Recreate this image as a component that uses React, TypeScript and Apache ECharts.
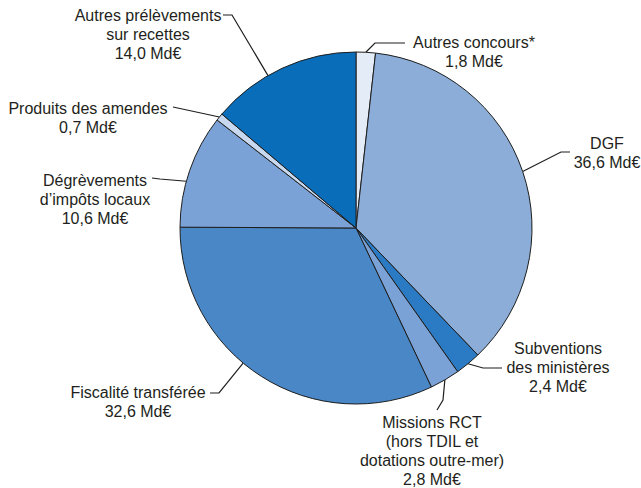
import React, { useEffect, useRef } from "react";
import * as echarts from "echarts";

const categories = [
  "Autres concours*",
  "DGF",
  "Subventions\ndes ministères",
  "Missions RCT\n(hors TDIL et\ndotations outre-mer)",
  "Fiscalité transférée",
  "Dégrèvements\nd’impôts locaux",
  "Produits des amendes",
  "Autres prélèvements\nsur recettes",
];
const values = [1.8, 36.6, 2.4, 2.8, 32.6, 10.6, 0.7, 14.0];
const colors = ["#e4ecf7", "#8badd8", "#2a7bc4", "#7ba2d6", "#4a87c6", "#7ba2d6", "#c8d8ee", "#0a6db9"];

// label layout (pixel positions of label blocks and leader lines)
const CX = 356;
const CY = 228;
const R = 176;
const labelPos: { x: number; y: number; angle?: number; pts: number[][] }[] = [
  { x: 474, y: 32.5, pts: [[375, 43], [405, 43]] },
  { x: 607, y: 133.5, pts: [[561, 152], [570, 152]] },
  { x: 558, y: 338.5, pts: [[483, 368], [502, 368]] },
  { x: 432, y: 412.5, pts: [[443, 400], [437, 410]] },
  { x: 138, y: 382.5, angle: 219.9, pts: [[219, 393], [210, 393]] },
  { x: 95, y: 170.5, angle: 285.4, pts: [[160, 179], [152, 178]] },
  { x: 88, y: 98.5, pts: [[173, 107]] },
  { x: 148, y: 5.5, angle: 330, pts: [[232, 15], [223, 15]] },
];

const fmt = (v: number) => v.toFixed(1).replace(".", ",") + " Md€";

export default function App() {
  const ref = useRef<HTMLDivElement>(null);
  useEffect(() => {
    if (!ref.current) return;
    const chart = echarts.init(ref.current, null, { renderer: "svg" });
    const total = values.reduce((a, b) => a + b, 0);
    const mids: number[] = [];
    let cum = 0;
    values.forEach((v) => {
      mids.push(((cum + v / 2) / total) * 360);
      cum += v;
    });
    chart.setOption({
      animation: false,
      backgroundColor: "#ffffff",
      series: [
        {
          type: "pie",
          center: [CX, CY],
          radius: [0, R],
          startAngle: 90,
          clockwise: true,
          avoidLabelOverlap: false,
          itemStyle: { borderColor: "#1e1e1e", borderWidth: 1 },
          label: {
            show: true,
            formatter: (p: any) => p.name + "\n" + fmt(p.value),
            fontFamily: "'Liberation Sans', Arial, sans-serif",
            fontSize: 16,
            lineHeight: 19,
            color: "#231f20",
            align: "center",
          },
          labelLine: { show: true, smooth: false, lineStyle: { color: "#1e1e1e", width: 1.2 } },
          labelLayout: (params: any) => {
            const i = params.dataIndex;
            const lp = labelPos[i];
            const a = ((lp.angle ?? mids[i]) * Math.PI) / 180;
            const start = [CX + R * Math.sin(a), CY - R * Math.cos(a)];
            return {
              x: lp.x,
              y: lp.y,
              align: "center",
              verticalAlign: "top",
              labelLinePoints: [start, ...lp.pts],
            };
          },
          data: categories.map((c, i) => ({
            name: c,
            value: values[i],
            itemStyle: { color: colors[i] },
          })),
        },
      ],
    });
    return () => chart.dispose();
  }, []);
  return (
    <div
      ref={ref}
      style={{ position: "fixed", left: 0, top: 0, width: 641, height: 488 }}
    />
  );
}
